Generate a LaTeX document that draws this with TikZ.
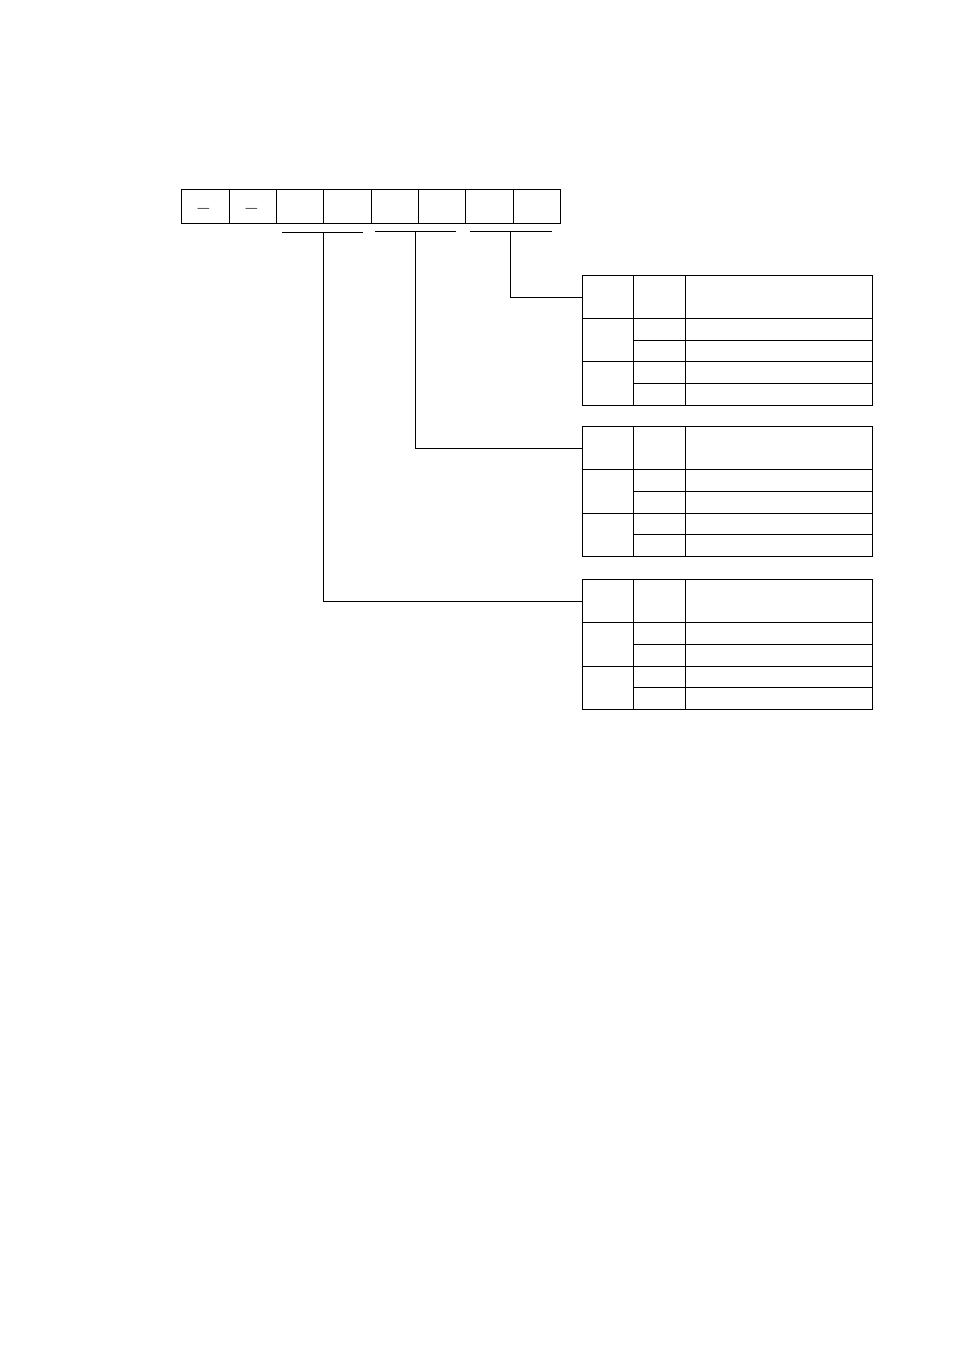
\documentclass[tikz,border=0pt]{standalone}
\usepackage{amsmath}
\usepackage{tikz}
\usetikzlibrary{positioning}

\begin{document}
\begin{tikzpicture}[x=0.22mm,y=-0.22mm,line width=0.6pt]
		\useasboundingbox (0,0) rectangle (954,1351);
		% code cells
		\foreach \x in {0,...,7}
			\draw (181.7+47.33*\x,189.3) rectangle ++(47.33,34);
		\node[inner sep=0pt, font=\fontsize{13}{13}\bfseries] (dash1) at (203.5,211) {--};
		\node[inner sep=0pt, font=\fontsize{13}{13}\bfseries] (dash2) at (251.5,211) {--};
		
		% group bars
		\draw (282.3,232.3) -- (362.7,232.3);
		\draw (375,231.3) -- (456,231.3);
		\draw (470,231.3) -- (552,231.3);
		\path	(323.3,232.3) coordinate(g1)
			(415.7,231.3) coordinate(g2)
			(510.7,231.3) coordinate(g3);
		
		% tables
		\foreach \n/\y in {1/275.3, 2/426.7, 3/579.7} {
			\draw (582.3,\y) rectangle (872.3,\y+130);
			\draw (633.3,\y) -- (633.3,\y+130);
			\draw (685.3,\y) -- (685.3,\y+130);
			\draw (582.3,\y+43) -- (872.3,\y+43);
			\draw (633.3,\y+64.7) -- (872.3,\y+64.7);
			\draw (582.3,\y+86.3) -- (872.3,\y+86.3);
			\draw (633.3,\y+108) -- (872.3,\y+108);
			\coordinate (t\n) at (582.3,\y+22);
		}
		
		\draw (g3) |- (t1);
		\draw (g2) |- (t2);
		\draw (g1) |- (t3);
	\end{tikzpicture}
\end{document}
